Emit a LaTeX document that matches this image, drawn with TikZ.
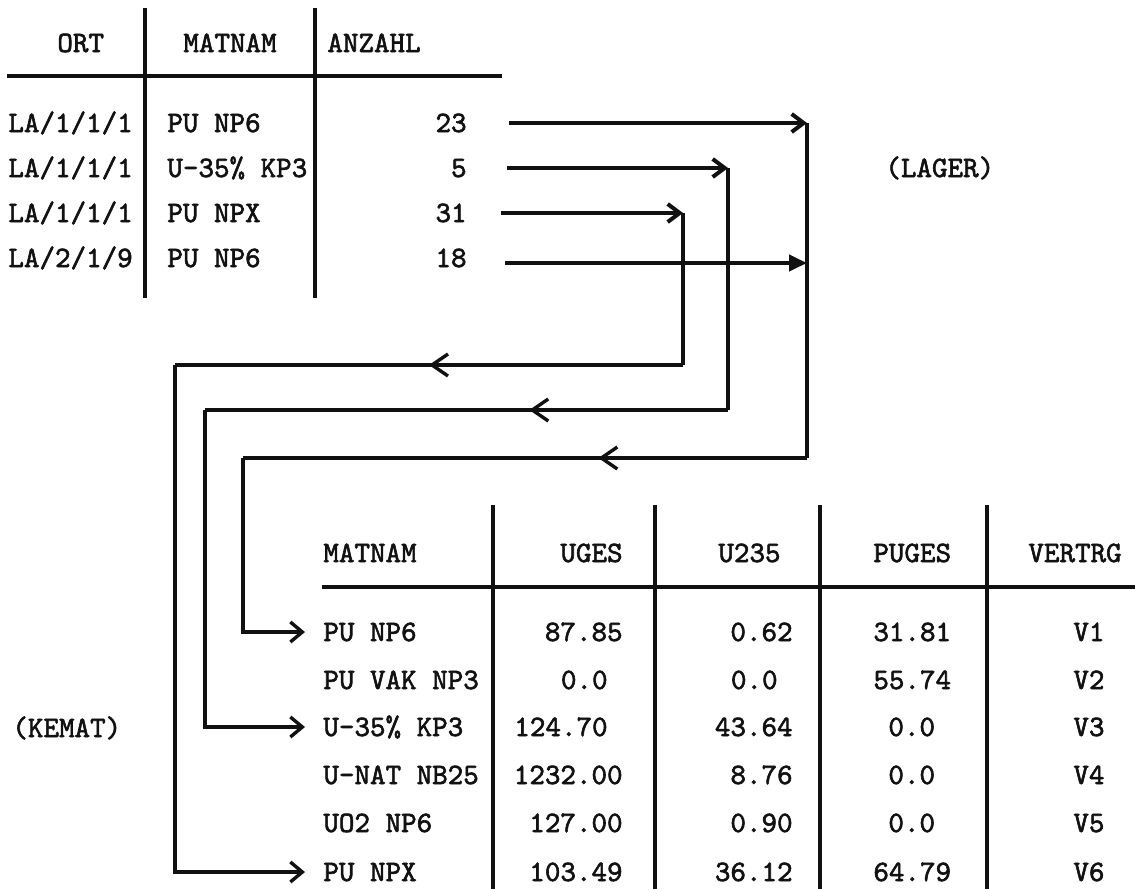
\documentclass[tikz,border=0pt]{standalone}
\usepackage{fontspec}
\usetikzlibrary{arrows.meta,decorations.markings}
\newfontfamily\typewriter[FakeBold=2]{lmmono10-regular.otf}
\definecolor{ink}{HTML}{111111}
\tikzset{
  every node/.style={text=ink},
  cell/.style={inner sep=0pt, text height=9pt, text depth=0pt,
    font=\typewriter\fontsize{14.8}{16}\selectfont},
  lcell/.style={cell, anchor=west},
  rcell/.style={cell, anchor=east},
  rule/.style={draw=ink, line width=1.6pt},
  rail/.style={draw=ink, line width=1.7pt},
  feed/.style={rail, line width=2pt,
    -{Straight Barb[length=6pt,width=9pt]}},
  feedfull/.style={rail, line width=2pt,
    -{Triangle[length=9pt,width=8pt]}},
  into/.style={rail, -{Straight Barb[length=6pt,width=10pt]},
    shorten >=9pt},
  back/.style={postaction={decorate}, decoration={markings,
    mark=at position #1 with {\arrow{Straight Barb[length=8pt,width=11pt]}}}}
}
\begin{document}
\begin{tikzpicture}[x=0.5pt,y=-0.5pt]
\useasboundingbox (0,0) rectangle (1135,889);

% LAGER table (top left)
\node[lcell] (ort0) at (57,43) {ORT};
\node[lcell] (mat0) at (183,43) {MATNAM};
\node[lcell] (anz0) at (327,43) {ANZAHL};

\node[lcell] (ort1) at (8,123) {LA/1/1/1};
\node[lcell] (ort2) at (8,168) {LA/1/1/1};
\node[lcell] (ort3) at (8,213) {LA/1/1/1};
\node[lcell] (ort4) at (8,258) {LA/2/1/9};

\node[lcell] (mat1) at (167,123) {PU NP6};
\node[lcell] (mat2) at (167,168) {U-35\% KP3};
\node[lcell] (mat3) at (167,213) {PU NPX};
\node[lcell] (mat4) at (167,258) {PU NP6};

\node[rcell] (anz1) at (467,123) {23};
\node[rcell] (anz2) at (467,168) {5};
\node[rcell] (anz3) at (467,213) {31};
\node[rcell] (anz4) at (467,258) {18};

\draw[rule] (7,76) -- (502,76);
\draw[rule] (145,8) -- (145,298);
\draw[rule] (315,8) -- (315,298);

\node[lcell] (lager) at (885,168) {(LAGER)};
\node[lcell] (kemat) at (12,728) {(KEMAT)};

% KEMAT table (bottom right)
\node[lcell] (kmat0) at (323,553) {MATNAM};
\node[rcell] (uges0) at (623,553) {UGES};
\node[lcell] (u2350) at (718,553) {U235};
\node[lcell] (puges0) at (873,553) {PUGES};
\node[lcell] (vtr0) at (1028,553) {VERTRG};

\node[lcell] (kmat1) at (323,632) {PU NP6};
\node[lcell] (kmat2) at (323,680) {PU VAK NP3};
\node[lcell] (kmat3) at (323,727) {U-35\% KP3};
\node[lcell] (kmat4) at (323,775) {U-NAT NB25};
\node[lcell] (kmat5) at (323,823) {UO2 NP6};
\node[lcell] (kmat6) at (323,872) {PU NPX};

\node[rcell] (uges1) at (623,632) {87.85};
\node[rcell] (uges2) at (608,680) {0.0};
\node[rcell] (uges3) at (608,727) {124.70};
\node[rcell] (uges4) at (623,775) {1232.00};
\node[rcell] (uges5) at (623,823) {127.00};
\node[rcell] (uges6) at (623,872) {103.49};

\node[rcell] (u2351) at (793,632) {0.62};
\node[rcell] (u2352) at (778,680) {0.0};
\node[rcell] (u2353) at (793,727) {43.64};
\node[rcell] (u2354) at (793,775) {8.76};
\node[rcell] (u2355) at (793,823) {0.90};
\node[rcell] (u2356) at (793,872) {36.12};

\node[lcell] (puges1) at (873,632) {31.81};
\node[lcell] (puges2) at (873,680) {55.74};
\node[lcell] (puges3) at (888,727) {0.0};
\node[lcell] (puges4) at (888,775) {0.0};
\node[lcell] (puges5) at (888,823) {0.0};
\node[lcell] (puges6) at (873,872) {64.79};

\node[lcell] (vtr1) at (1073,632) {V1};
\node[lcell] (vtr2) at (1073,680) {V2};
\node[lcell] (vtr3) at (1073,727) {V3};
\node[lcell] (vtr4) at (1073,775) {V4};
\node[lcell] (vtr5) at (1073,823) {V5};
\node[lcell] (vtr6) at (1073,872) {V6};

\draw[rule] (322,587) -- (1135,587);
\draw[rule] (493,505) -- (493,889);
\draw[rule] (655,505) -- (655,889);
\draw[rule] (820,505) -- (820,889);
\draw[rule] (987,505) -- (987,889);

% Rails: each count leaves LAGER, turns back left and enters KEMAT
\coordinate (r23) at (807,123);
\coordinate (r18) at (807,263);
\coordinate (r5) at (728,168);
\coordinate (r31) at (683,213);
\coordinate (b23) at (807,458);
\coordinate (b5) at (728,410);
\coordinate (b31) at (683,365);
\coordinate (d23) at (243,458);
\coordinate (d5) at (205,410);
\coordinate (d31) at (175,365);

\draw[feed, shorten <=21pt] (anz1.east) -- (r23);
\draw[feed, shorten <=20pt] (anz2.east) -- (r5);
\draw[feed, shorten <=17pt] (anz3.east) -- (r31);
\draw[feedfull, shorten <=19pt] (anz4.east |- r18) -- (r18);

\draw[rail] (r23) -- (b23);
\draw[rail] (r5) -- (b5);
\draw[rail] (r31) -- (b31);

\draw[rail, back=.37] (b23) -- (d23);
\draw[rail, back=.38] (b5) -- (d5);
\draw[rail, back=.5] (b31) -- (d31);

\draw[into] (d23) |- (kmat1.west);
\draw[into] (d5) |- (kmat3.west);
\draw[into] (d31) |- (kmat6.west);

\end{tikzpicture}
\end{document}
